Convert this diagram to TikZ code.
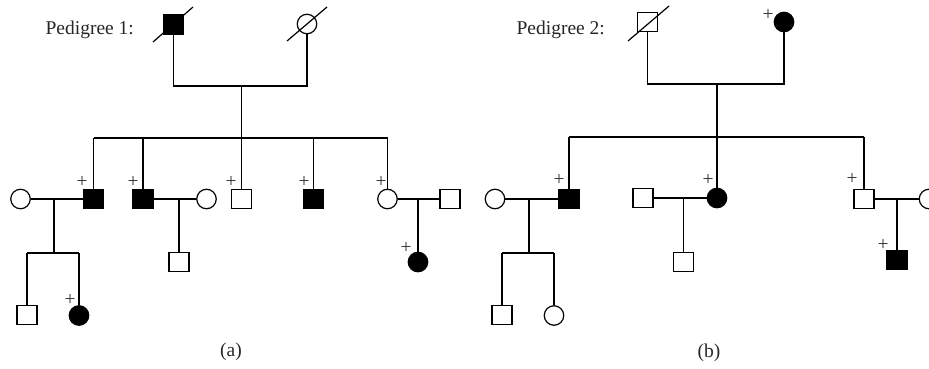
\documentclass[tikz,border=0pt]{standalone}
\usepackage{fontspec}
\setmainfont{Liberation Serif}
\begin{document}
\begin{tikzpicture}[x=1pt,y=-1pt,line width=1.2pt,
  male/.style={rectangle,draw,fill=white,minimum width=20pt,minimum height=19pt,inner sep=0pt},
  maleA/.style={male,fill=black},
  fem/.style={circle,draw,fill=white,minimum size=19.5pt,inner sep=0pt},
  femA/.style={fem,fill=black},
  carrier/.style={inner sep=0pt,font=\fontsize{19.5pt}{20pt}\selectfont,text=black!80},
  caption/.style={inner sep=0pt,font=\fontsize{19.5pt}{21pt}\selectfont,text=black!85},
  slash/.style={line width=1.2pt}]
\useasboundingbox (0,0) rectangle (929,369);

% ---------------- Pedigree 1 ----------------
\node[caption,anchor=base west] (t1) at (45,35) {Pedigree 1:};
\node[maleA] (a11) at (173.5,24.5) {};
\node[fem]   (a12) at (307,24) {};
\coordinate (a1m) at (241.5,86);
\coordinate (a1s) at (241.5,138);

\node[fem]   (a21) at (20.5,199) {};
\node[maleA] (a22) at (93.5,199) {};
\node[maleA] (a23) at (143,199) {};
\node[fem]   (a24) at (206.5,199) {};
\node[male]  (a25) at (241.5,199) {};
\node[maleA] (a26) at (313.5,199) {};
\node[fem]   (a27) at (387.5,199) {};
\node[male]  (a28) at (450,199) {};

\node[male]  (a31) at (27,315) {};
\node[femA]  (a32) at (79,315.5) {};
\node[male]  (a33) at (179,262) {};
\node[femA]  (a34) at (418,262) {};

\coordinate (a2j1) at (54,199);
\coordinate (a3s)  at (54,253);
\coordinate (a2j2) at (179,199);
\coordinate (a2j3) at (418,199);

% couple and sibship lines
\draw (a11.south) |- (a1m) -| (a12.south);
\draw (a1m) -- (a1s);
\draw (a22.north |- a1s) -- (a27.north |- a1s);
\foreach \c in {a22,a23,a25,a26,a27} \draw (\c.north) -- (\c.north |- a1s);
\draw (a21.east) -- (a22.west);
\draw (a2j1) -- (a3s);
\draw (a31.north |- a3s) -- (a32.north |- a3s);
\foreach \c in {a31,a32} \draw (\c.north) -- (\c.north |- a3s);
\draw (a23.east) -- (a24.west);
\draw (a2j2) -- (a33.north);
\draw (a27.east) -- (a28.west);
\draw (a2j3) -- (a34.north);

% deceased marks
\draw[slash] ([shift={(-20.5,17.5)}]a11.center) -- ([shift={(19.5,-17.5)}]a11.center);
\draw[slash] ([shift={(-20,17)}]a12.center) -- ([shift={(20,-17)}]a12.center);

% carriers
\node[carrier] (pa22) at (82,182) {+};
\node[carrier] (pa23) at (133,182) {+};
\node[carrier] (pa25) at (231,182) {+};
\node[carrier] (pa26) at (304,182) {+};
\node[carrier] (pa27) at (381,182) {+};
\node[carrier] (pa32) at (70,300) {+};
\node[carrier] (pa34) at (406,248) {+};

\node[caption] (ca) at (231,352) {(a)};

% ---------------- Pedigree 2 ----------------
\node[caption,anchor=base west] (t2) at (516,35) {Pedigree 2:};
\node[male]  (b11) at (647.5,22) {};
\node[femA]  (b12) at (784,22) {};
\coordinate (b1m) at (717,84);
\coordinate (b1s) at (717,137);

\node[fem]   (b21) at (495,199) {};
\node[maleA] (b22) at (569,199) {};
\node[male]  (b23) at (643,198) {};
\node[femA]  (b24) at (717,198) {};
\node[male]  (b25) at (864,199) {};
\node[fem]   (b26) at (929,199) {};

\node[male]  (b31) at (502,315) {};
\node[fem]   (b32) at (554,315.5) {};
\node[male]  (b33) at (683.5,262) {};
\node[maleA] (b34) at (897,260) {};

\coordinate (b2j1) at (529,199);
\coordinate (b3s)  at (529,253);
\coordinate (b2j2) at (683.5,198);
\coordinate (b2j3) at (897,199);

\draw (b11.south) |- (b1m) -| (b12.south);
\draw (b1m) -- (b1s);
\draw (b22.north |- b1s) -- (b25.north |- b1s);
\foreach \c in {b22,b24,b25} \draw (\c.north) -- (\c.north |- b1s);
\draw (b21.east) -- (b22.west);
\draw (b2j1) -- (b3s);
\draw (b31.north |- b3s) -- (b32.north |- b3s);
\foreach \c in {b31,b32} \draw (\c.north) -- (\c.north |- b3s);
\draw (b23.east) -- (b24.west);
\draw (b2j2) -- (b33.north);
\draw (b25.east) -- (b26.west);
\draw (b2j3) -- (b34.north);

\draw[slash] ([shift={(-19.5,19)}]b11.center) -- ([shift={(21.5,-16)}]b11.center);

\node[carrier] (pb12) at (768,15) {+};
\node[carrier] (pb22) at (559,180) {+};
\node[carrier] (pb24) at (708,180) {+};
\node[carrier] (pb25) at (852,179) {+};
\node[carrier] (pb34) at (883,245) {+};

\node[caption] (cb) at (709,353) {(b)};
\end{tikzpicture}
\end{document}
